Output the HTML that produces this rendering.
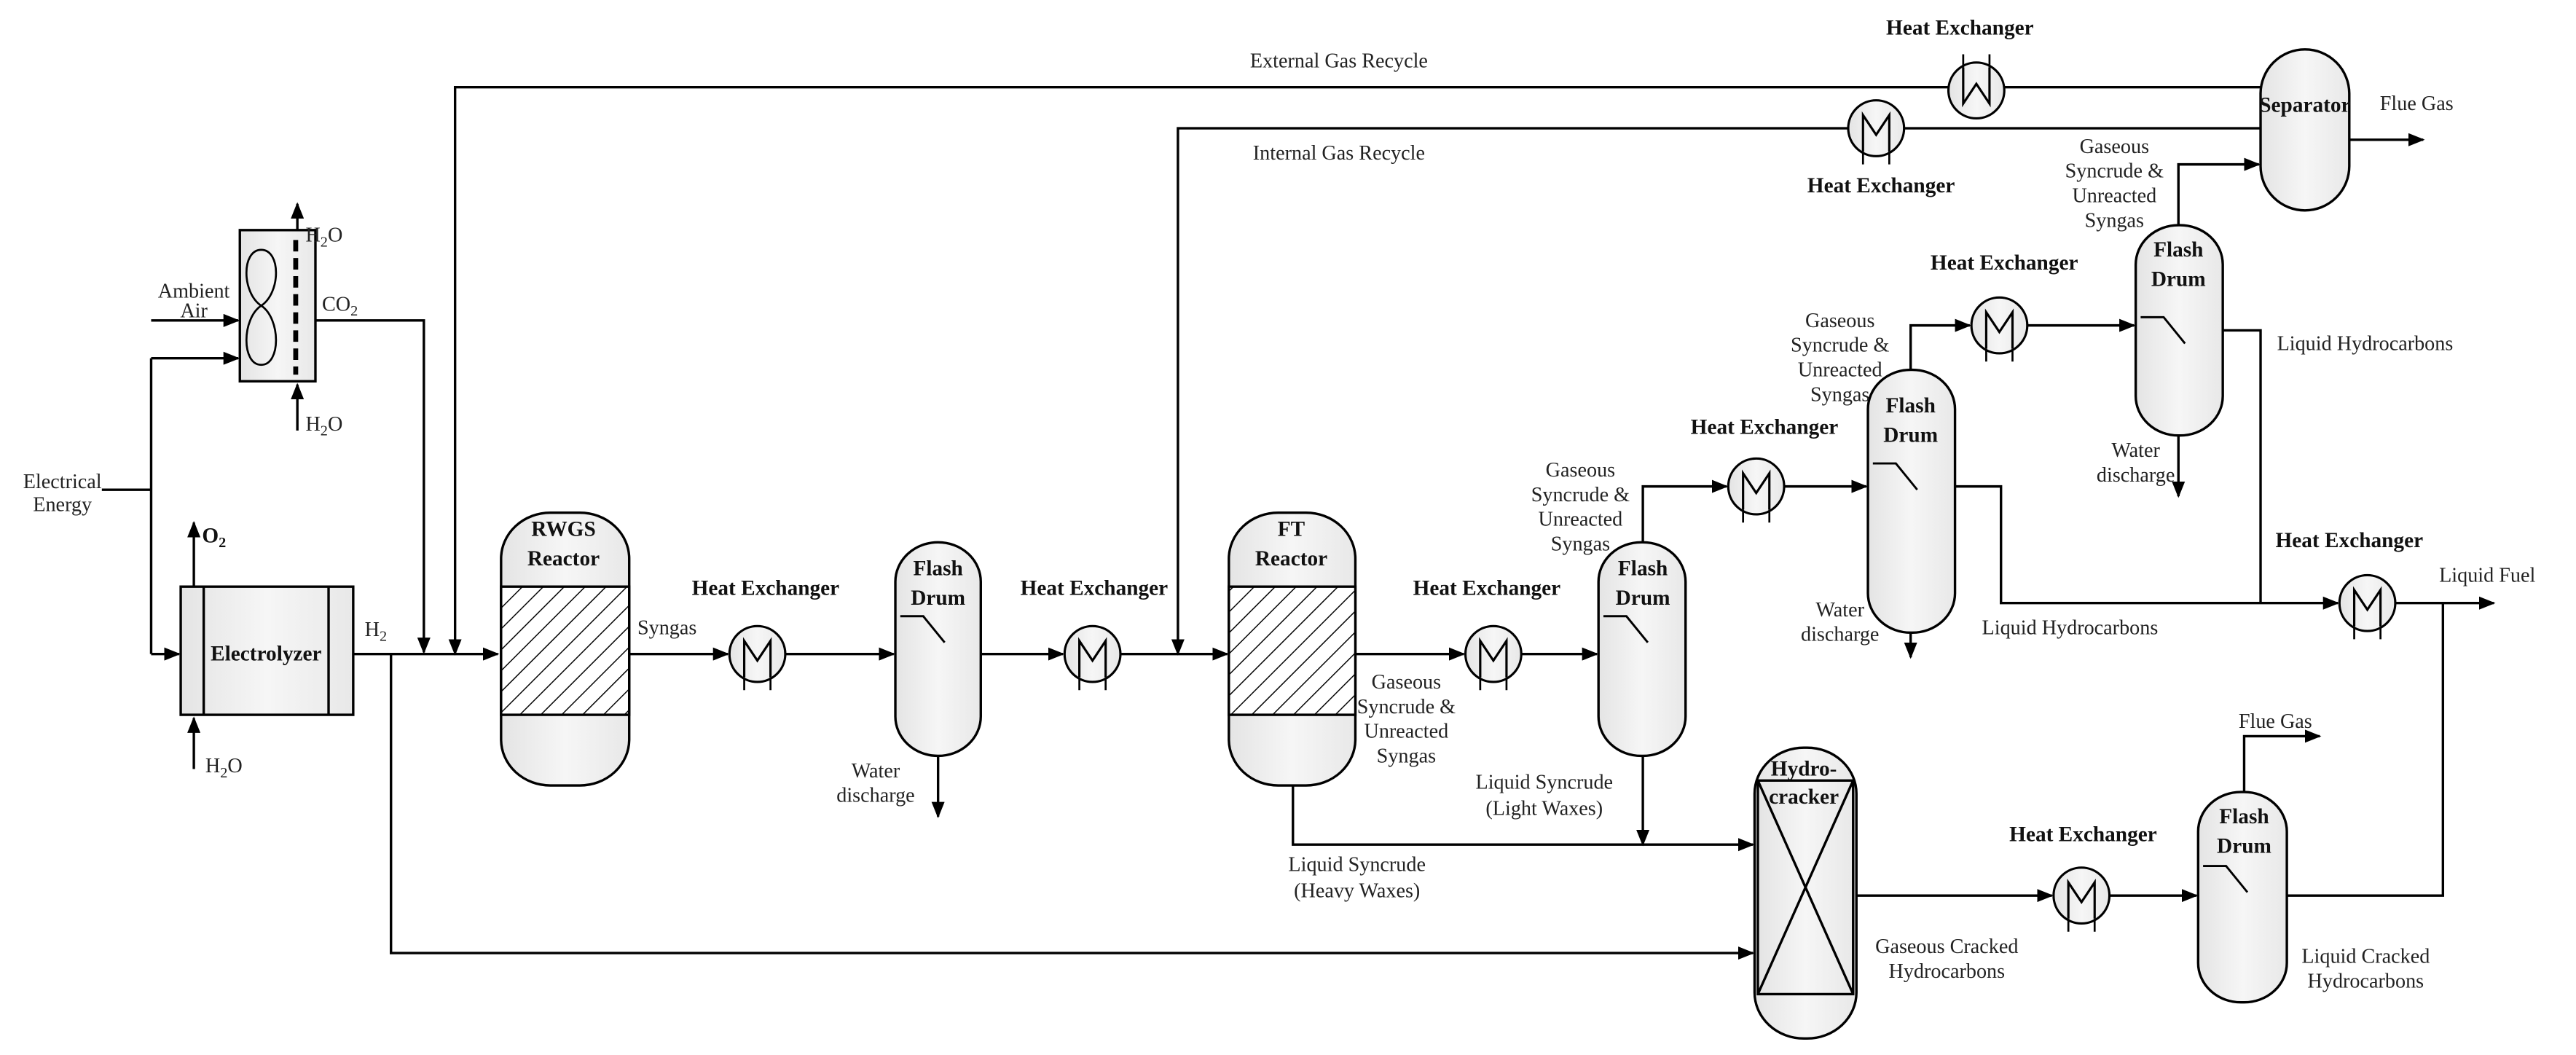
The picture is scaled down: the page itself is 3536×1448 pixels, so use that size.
<!DOCTYPE html>
<html><head><meta charset="utf-8"><style>
html,body{margin:0;padding:0;background:#fff;}
svg{display:block;}
text{font-family:"Liberation Serif",serif;font-size:12.5px;fill:#222;}
.b{font-weight:bold;font-size:13px;fill:#111;}
</style></head><body>
<svg width="3536" height="1448" viewBox="0 0 1568 642" xmlns="http://www.w3.org/2000/svg">
<defs>
<marker id="a" markerWidth="10" markerHeight="8" refX="9" refY="4" orient="auto" markerUnits="userSpaceOnUse"><path d="M0,0 L10,4 L0,8 Z" fill="#000"/></marker>
<pattern id="h" width="9" height="9" patternUnits="userSpaceOnUse" patternTransform="rotate(45)"><rect width="9" height="9" fill="#fff"/><line x1="0" y1="0" x2="0" y2="9" stroke="#000" stroke-width="1.3"/></pattern>
<linearGradient id="g" x1="0" x2="1"><stop offset="0" stop-color="#e4e4e4"/><stop offset="0.5" stop-color="#f6f6f6"/><stop offset="1" stop-color="#e8e8e8"/></linearGradient>
<g id="hx"><circle cx="0" cy="0" r="17" fill="url(#g)" stroke="#000" stroke-width="1.4"/><path d="M-8,14 V-8 L0,4 L8,-8 V14" fill="none" stroke="#000" stroke-width="1.4"/><path d="M-8,14 V22 M8,14 V22" stroke="#000" stroke-width="1.2"/></g>
<g id="hxw"><circle cx="0" cy="0" r="17" fill="url(#g)" stroke="#000" stroke-width="1.4"/><path d="M-8,-14 V8 L0,-4 L8,8 V-14" fill="none" stroke="#000" stroke-width="1.4"/><path d="M-8,-14 V-22 M8,-14 V-22" stroke="#000" stroke-width="1.2"/></g>
</defs>
<g fill="none" stroke="#000" stroke-width="1.5">
<path d="M1376,53 H277 V398" marker-end="url(#a)"/>
<path d="M1376,78 H717 V398" marker-end="url(#a)"/>
<path d="M1430,85 H1475" marker-end="url(#a)"/>
<path d="M181,140 V124" marker-end="url(#a)"/>
<path d="M181,262 V234" marker-end="url(#a)"/>
<path d="M92,195 H145" marker-end="url(#a)"/>
<path d="M62,298 H92 M92,218 V398" />
<path d="M92,218 H145" marker-end="url(#a)"/>
<path d="M92,398 H109" marker-end="url(#a)"/>
<path d="M192,195 H258 V397" marker-end="url(#a)"/>
<path d="M118,357 V318" marker-end="url(#a)"/>
<path d="M118,468 V437" marker-end="url(#a)"/>
<path d="M215,398 H303" marker-end="url(#a)"/>
<path d="M238,398 V580 H1067" marker-end="url(#a)"/>
<path d="M383,398 H443" marker-end="url(#a)"/>
<path d="M478,398 H544" marker-end="url(#a)"/>
<path d="M571,460 V497" marker-end="url(#a)"/>
<path d="M597,398 H647" marker-end="url(#a)"/>
<path d="M682,398 H747" marker-end="url(#a)"/>
<path d="M825,398 H891" marker-end="url(#a)"/>
<path d="M926,398 H972" marker-end="url(#a)"/>
<path d="M787,478 V514 H1067" marker-end="url(#a)"/>
<path d="M1000,460 V514" marker-end="url(#a)"/>
<path d="M1000,330 V296 H1051" marker-end="url(#a)"/>
<path d="M1086,296 H1136" marker-end="url(#a)"/>
<path d="M1163,225 V198 H1199" marker-end="url(#a)"/>
<path d="M1234,198 H1299" marker-end="url(#a)"/>
<path d="M1163,385 V400" marker-end="url(#a)"/>
<path d="M1190,296 H1218 V367 H1423" marker-end="url(#a)"/>
<path d="M1326,137 V100 H1375" marker-end="url(#a)"/>
<path d="M1326,265 V302" marker-end="url(#a)"/>
<path d="M1353,201 H1376 V367"/>
<path d="M1458,367 H1518" marker-end="url(#a)"/>
<path d="M1130,545 H1249" marker-end="url(#a)"/>
<path d="M1284,545 H1337" marker-end="url(#a)"/>
<path d="M1366,482 V448 H1412" marker-end="url(#a)"/>
<path d="M1392,545 H1487 V367"/>
</g>
<g stroke="#000" stroke-width="1.5">
<rect x="1376" y="30" width="54" height="98" rx="27" ry="27" fill="url(#g)"/>
<rect x="146" y="140" width="46" height="92" fill="url(#g)"/>
<path d="M180,146 V228" stroke-dasharray="7,4" stroke-width="3" fill="none"/>
<path d="M159,152 C147,152 147,178 159,186 C171,194 171,222 159,222 C147,222 147,194 159,186 C171,178 171,152 159,152 Z" fill="none" stroke-width="1.2"/>
<rect x="110" y="357" width="105" height="78" fill="url(#g)"/>
<path d="M124,357 V435 M200,357 V435" fill="none"/>
<rect x="305" y="312" width="78" height="166" rx="30" ry="28" fill="url(#g)"/>
<rect x="305" y="357" width="78" height="78" fill="url(#h)"/>
<rect x="748" y="312" width="77" height="166" rx="30" ry="28" fill="url(#g)"/>
<rect x="748" y="357" width="77" height="78" fill="url(#h)"/>
<rect x="545" y="330" width="52" height="130" rx="26" ry="24" fill="url(#g)"/>
<rect x="973" y="330" width="53" height="130" rx="26" ry="24" fill="url(#g)"/>
<rect x="1137" y="225" width="53" height="160" rx="26" ry="24" fill="url(#g)"/>
<rect x="1300" y="137" width="53" height="128" rx="26" ry="24" fill="url(#g)"/>
<rect x="1338" y="482" width="54" height="128" rx="26" ry="24" fill="url(#g)"/>
<rect x="1068" y="455" width="62" height="177" rx="30" ry="28" fill="url(#g)"/>
<rect x="1070" y="475" width="58" height="130" fill="url(#g)"/>
<path d="M1070,475 L1128,605 M1128,475 L1070,605" fill="none"/>
<g fill="none" stroke-width="1.3">
<path d="M548,375 H562 L575,391"/>
<path d="M976,375 H990 L1003,391"/>
<path d="M1140,282 H1154 L1167,298"/>
<path d="M1303,193 H1317 L1330,209"/>
<path d="M1341,527 H1355 L1368,543"/>
</g>
</g>
<use href="#hxw" x="1203" y="55"/>
<use href="#hx" x="1142" y="78"/>
<use href="#hx" x="461" y="398"/>
<use href="#hx" x="665" y="398"/>
<use href="#hx" x="909" y="398"/>
<use href="#hx" x="1069" y="296"/>
<use href="#hx" x="1217" y="198"/>
<use href="#hx" x="1441" y="367"/>
<use href="#hx" x="1267" y="545"/>
<g text-anchor="middle">
<text x="815" y="41">External Gas Recycle</text>
<text x="815" y="97">Internal Gas Recycle</text>
<text class="b" x="1193" y="21">Heat Exchanger</text>
<text class="b" x="1145" y="117">Heat Exchanger</text>
<text class="b" x="1403" y="68" font-size="12.5">Separator</text>
<text x="1471" y="67">Flue Gas</text>
<text x="1287" y="93">Gaseous</text><text x="1287" y="108">Syncrude &amp;</text><text x="1287" y="123">Unreacted</text><text x="1287" y="138">Syngas</text>
<text class="b" x="1220" y="164">Heat Exchanger</text>
<text class="b" x="1326" y="156">Flash</text><text class="b" x="1326" y="174">Drum</text>
<text x="1300" y="278">Water</text><text x="1300" y="293">discharge</text>
<text x="1120" y="199">Gaseous</text><text x="1120" y="214">Syncrude &amp;</text><text x="1120" y="229">Unreacted</text><text x="1120" y="244">Syngas</text>
<text class="b" x="1163" y="251">Flash</text><text class="b" x="1163" y="269">Drum</text>
<text class="b" x="1074" y="264">Heat Exchanger</text>
<text x="962" y="290">Gaseous</text><text x="962" y="305">Syncrude &amp;</text><text x="962" y="320">Unreacted</text><text x="962" y="335">Syngas</text>
<text class="b" x="1000" y="350">Flash</text><text class="b" x="1000" y="368">Drum</text>
<text x="1120" y="375">Water</text><text x="1120" y="390">discharge</text>
<text class="b" x="1430" y="333">Heat Exchanger</text>
<text x="1514" y="354">Liquid Fuel</text>
<text x="1260" y="386">Liquid Hydrocarbons</text>
<text class="b" x="343" y="326">RWGS</text><text class="b" x="343" y="344">Reactor</text>
<text class="b" x="786" y="326">FT</text><text class="b" x="786" y="344">Reactor</text>
<text class="b" x="571" y="350">Flash</text><text class="b" x="571" y="368">Drum</text>
<text class="b" x="466" y="362">Heat Exchanger</text>
<text class="b" x="666" y="362">Heat Exchanger</text>
<text class="b" x="905" y="362">Heat Exchanger</text>
<text x="533" y="473">Water</text><text x="533" y="488">discharge</text>
<text x="856" y="419">Gaseous</text><text x="856" y="434">Syncrude &amp;</text><text x="856" y="449">Unreacted</text><text x="856" y="464">Syngas</text>
<text x="940" y="480">Liquid Syncrude</text><text x="940" y="496">(Light Waxes)</text>
<text x="826" y="530">Liquid Syncrude</text><text x="826" y="546">(Heavy Waxes)</text>
<text class="b" x="1098" y="472">Hydro-</text><text class="b" x="1098" y="489">cracker</text>
<text class="b" x="1268" y="512">Heat Exchanger</text>
<text x="1385" y="443">Flue Gas</text>
<text class="b" x="1366" y="501">Flash</text><text class="b" x="1366" y="519">Drum</text>
<text x="1185" y="580">Gaseous Cracked</text><text x="1185" y="595">Hydrocarbons</text>
<text x="1440" y="586">Liquid Cracked</text><text x="1440" y="601">Hydrocarbons</text>
<text x="118" y="181">Ambient</text><text x="118" y="193">Air</text>
<text x="38" y="297">Electrical</text><text x="38" y="311">Energy</text>
<text class="b" x="162" y="402">Electrolyzer</text>
</g>
<text x="1386" y="213">Liquid Hydrocarbons</text>
<text x="186" y="147">H<tspan font-size="9" dy="3">2</tspan><tspan dy="-3">O</tspan></text>
<text x="196" y="189">CO<tspan font-size="9" dy="3">2</tspan></text>
<text x="186" y="262">H<tspan font-size="9" dy="3">2</tspan><tspan dy="-3">O</tspan></text>
<text class="b" x="123" y="330">O<tspan font-size="9" dy="3">2</tspan></text>
<text x="125" y="470">H<tspan font-size="9" dy="3">2</tspan><tspan dy="-3">O</tspan></text>
<text x="222" y="387">H<tspan font-size="9" dy="3">2</tspan></text>
<text x="388" y="386">Syngas</text>
</svg>
</body></html>
